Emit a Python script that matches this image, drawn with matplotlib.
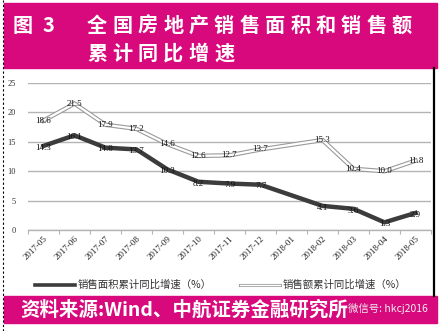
import numpy as np
import matplotlib
matplotlib.use('Agg')
import matplotlib.pyplot as plt
from matplotlib.lines import Line2D

# 数据
months = ['2017-05', '2017-06', '2017-07', '2017-08', '2017-09', '2017-10', '2017-11',
          '2017-12', '2018-01', '2018-02', '2018-03', '2018-04', '2018-05']
area = [14.3, 16.1, 14.0, 13.7, 10.3, 8.2, 7.9, 7.7, np.nan, 4.1, 3.6, 1.3, 2.9]
amount = [18.6, 21.5, 17.9, 17.2, 14.6, 12.6, 12.7, 13.7, np.nan, 15.3, 10.4, 10.0, 11.8]
yticks = [0, 5, 10, 15, 20, 25]
title1 = '全国房地产销售面积和销售额'
title2 = '累计同比增速'
legend_names = ['销售面积累计同比增速（%）', '销售额累计同比增速（%）']
source = '资料来源:Wind、中航证券金融研究所'

W, H = 441, 331
PINK = '#D8097C'
CJK = ['Noto Sans CJK SC', 'DejaVu Sans']
NUM = ['Liberation Serif', 'DejaVu Serif']

fig = plt.figure(figsize=(W / 100, H / 100), dpi=100)
fig.patch.set_facecolor('white')


def px(x, y):
    return x / W, 1 - y / H


def spaced(x0, y, s, pitch, **kw):
    # 逐字排布, 模仿原图的字间距
    for i, ch in enumerate(s):
        fig.text(*px(x0 + i * pitch, y), ch, ha='left', va='center', **kw)


# 顶部和底部的粉色色块
fig.patches.append(plt.Rectangle(px(4, 68), 433 / W, 65 / H, transform=fig.transFigure,
                                 color=PINK, zorder=0))
fig.patches.append(plt.Rectangle(px(4, 323), 433 / W, 27 / H, transform=fig.transFigure,
                                 color=PINK, zorder=0))
# 左侧虚线, 右侧黑线
fig.add_artist(Line2D([3 / W, 3 / W], [0, 1], color='black', lw=0.8, ls=(0, (2, 2))))
fig.add_artist(Line2D([434 / W, 434 / W], [1 - 68 / H, 1 - 296 / H], color='black', lw=1.6))

# 标题
fig.text(*px(13, 25), '图', ha='left', va='center', color='white', fontsize=14.5,
         fontweight='bold', family=CJK)
fig.text(*px(43, 25), '3', ha='left', va='center', color='white', fontsize=14.5,
         fontweight='bold', family=CJK)
spaced(87, 25, title1, 25.4, color='white', fontsize=14.5, fontweight='bold', family=CJK)
spaced(87, 53, title2, 25.4, color='white', fontsize=14.5, fontweight='bold', family=CJK)

# 主图
ax = fig.add_axes([28 / W, 1 - 230 / H, 403 / W, 147 / H])
x = np.arange(len(months))
a = np.array(area)
b = np.array(amount)
ma = ~np.isnan(a)
mb = ~np.isnan(b)

ax.plot(x[mb], b[mb], color='#9A9A9A', lw=3.2, solid_joinstyle='miter', zorder=3)
ax.plot(x[mb], b[mb], color='white', lw=1.6, solid_joinstyle='miter', zorder=4)
ax.plot(x[ma], a[ma], color='#3C3C3C', lw=3.2, solid_joinstyle='miter', zorder=5)

for xi, v in zip(x[mb], b[mb]):
    ax.text(xi, v, f'{v:.1f}', ha='center', va='center', fontsize=6.5, family=NUM,
            color='#111111', zorder=6)
for xi, v in zip(x[ma], a[ma]):
    ax.text(xi, v - 0.3, f'{v:.1f}', ha='center', va='center', fontsize=6.5, family=NUM,
            color='#111111', zorder=6)

ax.set_xlim(-0.5, len(months) - 0.5)
ax.set_ylim(0, 25)
ax.set_yticks(yticks)
ax.set_yticklabels([str(t) for t in yticks], fontsize=6, family=NUM, color='#333333')
ax.tick_params(axis='y', length=0, pad=9)
ax.yaxis.grid(True, color='#B4B4B4', lw=1.0)
ax.set_axisbelow(True)
for s in ['left', 'right', 'top']:
    ax.spines[s].set_visible(False)
ax.spines['bottom'].set_color('#B4B4B4')
ax.spines['bottom'].set_linewidth(1.0)
ax.set_xticks(np.arange(-0.5, len(months), 1.0))
ax.set_xticklabels([])
ax.tick_params(axis='x', length=3, color='#B4B4B4', direction='out')
for xi, m in zip(x, months):
    ax.text(xi, -0.8, m, rotation=45, ha='right', va='top', rotation_mode='anchor',
            fontsize=6.5, family=NUM, color='#222222', transform=ax.transData)

# 图例
fig.add_artist(Line2D([35 / W, 75 / W], [1 - 285 / H] * 2, color='#3C3C3C', lw=2.6))
fig.text(*px(78, 285), legend_names[0], ha='left', va='center', fontsize=7.5,
         family=CJK, color='#333333')
fig.add_artist(Line2D([240 / W, 280 / W], [1 - 285 / H] * 2, color='#9A9A9A', lw=2.2))
fig.add_artist(Line2D([240 / W, 280 / W], [1 - 285 / H] * 2, color='white', lw=1.0))
fig.text(*px(283, 285), legend_names[1], ha='left', va='center', fontsize=7.5,
         family=CJK, color='#333333')

# 资料来源
fig.text(*px(20, 310), source, ha='left', va='center', fontsize=14, fontweight='bold',
         family=CJK, color='white')
fig.text(*px(428, 309), '微信号: hkcj2016', ha='right', va='center', fontsize=7.5,
         family=CJK, color='#EEEEEE')

fig.savefig('out.png', dpi=100)
